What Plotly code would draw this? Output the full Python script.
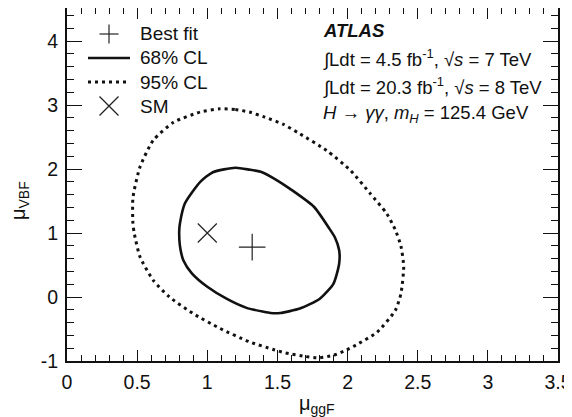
import plotly.graph_objects as go

# 68% CL contour (mu_ggF, mu_VBF)
cl68_x = [1.20, 1.30, 1.39, 1.50, 1.59, 1.76, 1.87, 1.91, 1.94, 1.94, 1.90, 1.80, 1.66, 1.52, 1.45, 1.40, 1.28, 1.14, 1.00, 0.89, 0.83, 0.805, 0.80, 0.805, 0.84, 0.95, 1.04, 1.20]
cl68_y = [2.02, 1.99, 1.95, 1.82, 1.69, 1.41, 1.07, 0.93, 0.73, 0.52, 0.21, -0.03, -0.18, -0.25, -0.25, -0.23, -0.17, -0.03, 0.16, 0.37, 0.57, 0.80, 1.04, 1.15, 1.46, 1.80, 1.95, 2.02]

# 95% CL contour
cl95_x = [1.09, 1.20, 1.30, 1.41, 1.54, 1.66, 1.85, 2.02, 2.16, 2.28, 2.34, 2.38, 2.40, 2.38, 2.34, 2.21, 2.06, 1.99, 1.90, 1.80, 1.70, 1.55, 1.47, 1.30, 1.09, 0.90, 0.73, 0.615, 0.52, 0.48, 0.47, 0.47, 0.52, 0.615, 0.76, 0.95, 1.09]
cl95_y = [2.94, 2.93, 2.89, 2.81, 2.70, 2.55, 2.29, 1.98, 1.62, 1.30, 1.05, 0.80, 0.47, 0.05, -0.21, -0.55, -0.75, -0.83, -0.91, -0.95, -0.93, -0.87, -0.82, -0.70, -0.49, -0.26, 0.0, 0.26, 0.63, 0.99, 1.15, 1.55, 2.03, 2.45, 2.73, 2.89, 2.94]

best_fit = (1.32, 0.78)
sm_point = (1.0, 1.0)

x_tickvals = [0, 0.5, 1, 1.5, 2, 2.5, 3, 3.5]
x_ticktext = ["0", "0.5", "1", "1.5", "2", "2.5", "3", "3.5"]
y_tickvals = [-1, 0, 1, 2, 3, 4]
y_ticktext = ["-1", "0", "1", "2", "3", "4"]

legend_labels = ["Best fit", "68% CL", "95% CL", "SM"]

info_lines = [
    "<b><i>ATLAS</i></b>",
    "∫Ldt = 4.5 fb<sup>-1</sup>, √<i>s</i> = 7 TeV",
    "∫Ldt = 20.3 fb<sup>-1</sup>, √<i>s</i> = 8 TeV",
    "<i>H</i> → <i>γγ</i>, <i>m</i><sub><i>H</i></sub> = 125.4 GeV",
]
info_y = [4.17, 3.74, 3.29, 2.86]

FONT = "Liberation Sans, Arial, sans-serif"
INK = "#111"

# the page body has an 8px margin, so the figure is sized/offset to compensate
OFF = 8
W, H = 572, 417 - OFF
ML, MR, MT, MB = 67 - OFF, 14 + OFF, 0, 56
PW, PH = W - ML - MR, H - MT - MB


def px(xs):
    """screen x pixel -> paper coordinate"""
    return (xs - OFF - ML) / PW


def py(ys):
    """screen y pixel -> paper coordinate"""
    return (H - MB - (ys - OFF)) / PH


fig = go.Figure()
fig.add_trace(go.Scatter(x=[best_fit[0]], y=[best_fit[1]], mode="markers", name="Best fit",
                         marker=dict(symbol="cross-thin", size=19, line=dict(color="#222", width=1.2))))
fig.add_trace(go.Scatter(x=cl68_x, y=cl68_y, mode="lines", name="68% CL",
                         line=dict(color=INK, width=2.6, shape="spline", smoothing=0.6)))
fig.add_trace(go.Scatter(x=cl95_x, y=cl95_y, mode="lines", name="95% CL",
                         line=dict(color=INK, width=3, dash="3px,4px", shape="spline", smoothing=0.6)))
fig.add_trace(go.Scatter(x=[sm_point[0]], y=[sm_point[1]], mode="markers", name="SM",
                         marker=dict(symbol="x-thin", size=19, line=dict(color="#222", width=1.2))))

# info text block
for txt, yy in zip(info_lines, info_y):
    fig.add_annotation(x=1.81, y=yy, xref="x", yref="y", text=txt, showarrow=False,
                       xanchor="left", yanchor="middle", font=dict(family=FONT, size=18.5, color=INK))

# legend (drawn by hand to match row spacing)
rows_y = [34, 58, 82, 106]
cx, half = 109, 9.5
for lab, ry in zip(legend_labels, rows_y):
    fig.add_annotation(x=px(138), y=py(ry), xref="paper", yref="paper", text=lab, showarrow=False,
                       xanchor="left", yanchor="middle", font=dict(family=FONT, size=19, color=INK))
sym = dict(xref="paper", yref="paper", type="line")
# plus
fig.add_shape(x0=px(cx - half), x1=px(cx + half), y0=py(rows_y[0]), y1=py(rows_y[0]),
              line=dict(color="#222", width=1.2), **sym)
fig.add_shape(x0=px(cx), x1=px(cx), y0=py(rows_y[0] - half), y1=py(rows_y[0] + half),
              line=dict(color="#222", width=1.2), **sym)
# solid
fig.add_shape(x0=px(88), x1=px(130), y0=py(rows_y[1]), y1=py(rows_y[1]),
              line=dict(color=INK, width=2.6), **sym)
# dotted
fig.add_shape(x0=px(88), x1=px(130), y0=py(rows_y[2]), y1=py(rows_y[2]),
              line=dict(color=INK, width=3, dash="3px,4px"), **sym)
# x
fig.add_shape(x0=px(cx - half), x1=px(cx + half), y0=py(rows_y[3] - half), y1=py(rows_y[3] + half),
              line=dict(color="#222", width=1.2), **sym)
fig.add_shape(x0=px(cx - half), x1=px(cx + half), y0=py(rows_y[3] + half), y1=py(rows_y[3] - half),
              line=dict(color="#222", width=1.2), **sym)

# axis titles
fig.add_annotation(x=px(317), y=py(404), xref="paper", yref="paper", text="μ<sub>ggF</sub>",
                   showarrow=False, xanchor="center", yanchor="middle",
                   font=dict(family=FONT, size=20, color=INK))
fig.add_annotation(x=px(19), y=py(201), xref="paper", yref="paper", text="μ<sub>VBF</sub>",
                   showarrow=False, xanchor="center", yanchor="middle", textangle=-90,
                   font=dict(family=FONT, size=20, color=INK))

axis_common = dict(showline=True, linewidth=2, linecolor=INK, mirror="allticks",
                   ticks="inside", tickcolor=INK, tickwidth=1.3, showgrid=False, zeroline=False,
                   automargin=False, tickfont=dict(family=FONT, size=19.5, color=INK))

fig.update_xaxes(range=[0, 3.5], tickmode="array", tickvals=x_tickvals, ticktext=x_ticktext,
                 ticklen=11, ticklabelstandoff=3,
                 minor=dict(ticks="inside", dtick=0.1, tick0=0, ticklen=6, tickwidth=1.2, tickcolor=INK),
                 **axis_common)
fig.update_yaxes(range=[-1, 4.516], tickmode="array", tickvals=y_tickvals, ticktext=y_ticktext,
                 ticklen=15, ticklabelstandoff=3,
                 minor=dict(ticks="inside", dtick=0.2, tick0=0, ticklen=7, tickwidth=1.2, tickcolor=INK),
                 **axis_common)

fig.update_layout(
    width=W, height=H,
    margin=dict(l=ML, r=MR, t=MT, b=MB),
    paper_bgcolor="white", plot_bgcolor="white",
    font=dict(family=FONT, color=INK),
    showlegend=False,
)

fig.write_html("out.html")
